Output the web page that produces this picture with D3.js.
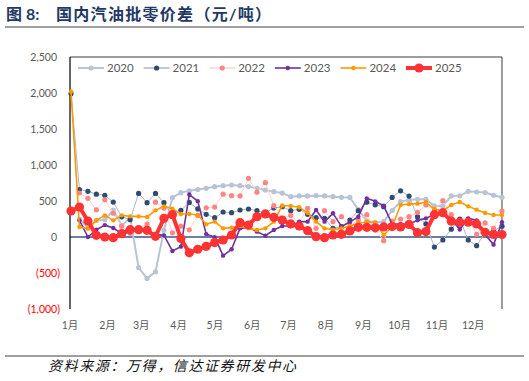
<!DOCTYPE html>
<html lang="zh">
  <head>
    <meta charset="UTF-8" />
    <title>国内汽油批零价差</title>
    <script src="https://cdn.jsdelivr.net/npm/d3@7"></script>
  </head>
  <body>
    <svg width="529" height="381"></svg>
    <style>
      body { margin: 0; background: #fff; }
      svg { display: block; }
      text { font-family: Lato, "Noto Sans CJK SC", sans-serif; }
    </style>
    <script>
      // weekly values, week 0 = first week of Jan
      const years = ["2020", "2021", "2022", "2023", "2024", "2025"];
      const y2020 = [null, 250, 130, 230, 240, 372, 158, 268, -425, -575, -484, 93, 548, 616, 642, 660, 676, 699, 713, 722, 713, 700, 676, 653, 630, 610, 560, 570, 570, 574, 570, 560, 551, 549, 380, 225, 204, 213, 368, 491, 514, 523, 523, 431, 431, 570, 572, 635, 625, 618, 580, 551];
      const y2021 = [1990, 660, 635, 595, 580, 485, 280, 240, 605, 477, 605, 477, 290, 370, 480, 390, 315, 268, 347, 338, 375, 389, 366, 338, 403, 420, 366, 385, 315, 268, 259, 120, 143, 236, 366, 484, 447, 421, 549, 641, 569, 282, 181, -140, -42, 109, 250, -42, -120, 58, 88, 150];
      const y2022 = [null, 611, 537, 378, 516, 330, 150, 51, 120, 180, 484, 402, 58, 150, 100, 300, 405, 416, 595, 574, 571, 815, 623, 755, 435, 260, 300, 200, 398, 120, 365, 213, 282, 150, 236, 310, 100, -51, 222, 250, 282, 343, 445, 380, 505, 310, 150, 250, 37, 195, 120, 361];
      const y2023 = [null, 231, 0, 100, 165, 125, 48, 65, 97, 70, 37, 23, -194, -134, 590, 498, 40, -2, -259, -171, 120, 134, 74, 19, 97, 153, 153, 213, 213, 375, 213, 329, 148, 206, 282, 537, 495, 433, 181, 181, 181, 231, 259, 315, 338, 247, 104, 259, 231, 35, -106, 204];
      const y2024 = [2020, 139, 116, 231, 301, 231, 301, 287, 287, 278, 370, 426, 394, 320, 320, 306, 176, 213, 120, 130, 153, 120, 97, 120, 213, 438, 431, 414, 336, 213, 120, 100, 120, 153, 190, 213, 199, 28, 143, 445, 456, 463, 482, 386, 363, 445, 486, 426, 380, 333, 306, 306];
      const y2025 = [361, 417, 222, 23, 0, -9, 46, 102, 102, 93, 9, 260, 310, -20, -220, -170, -130, -78, -42, 28, 199, 167, 282, 320, 273, 236, 181, 153, 88, 5, -9, 28, 37, 85, 135, 135, 128, 140, 145, 140, 175, 60, 75, 310, 338, 220, 205, 205, 181, 65, 35, 35];
      const seriesValues = [y2020, y2021, y2022, y2023, y2024, y2025];

      const monthLabels = ["1月", "2月", "3月", "4月", "5月", "6月", "7月", "8月", "9月", "10月", "11月", "12月"];
      const monthStartDay = [0, 31, 59, 90, 120, 151, 181, 212, 243, 273, 304, 334];
      const yTicks = [2500, 2000, 1500, 1000, 500, 0, -500, -1000];

      const styles = [
        { line: "#b8c4d6", lw: 2, dot: "#b8c4d6", r: 2.6 },
        { line: "#a9b7ca", lw: 1, dot: "#2f4b74", r: 2.6 },
        { line: "#ffd3d3", lw: 1, dot: "#ff8585", r: 2.6 },
        { line: "#7030a0", lw: 1.6, dot: "#7030a0", r: 2.2 },
        { line: "#ff9900", lw: 1.6, dot: "#ff9900", r: 2.2 },
        { line: "#ff3333", lw: 4, dot: "#ff3333", r: 4.6 }
      ];

      const svg = d3.select("svg");
      const plotLeft = 70, plotRight = 502, plotTop = 57, plotBottom = 309;

      const x = d3.scaleLinear().domain([0, 357]).range([71, plotRight]);
      const y = d3.scaleLinear().domain([-1000, 2500]).range([plotBottom, plotTop]);

      // title
      const title = svg.append("text")
        .attr("x", 6).attr("y", 20)
        .attr("font-family", "'Noto Sans CJK SC'")
        .attr("font-size", 16).attr("font-weight", "bold")
        .attr("fill", "#1f3864");
      title.append("tspan").text("图 8:");
      title.append("tspan").attr("x", 56).attr("letter-spacing", 1.3).text("国内汽油批零价差（元/吨）");
      svg.append("line")
        .attr("x1", 5).attr("x2", 524).attr("y1", 27).attr("y2", 27)
        .attr("stroke", "#808080").attr("stroke-width", 1.5);

      // plot frame (top + right)
      svg.append("path")
        .attr("d", `M${plotLeft},${plotTop}H${plotRight}V${plotBottom}`)
        .attr("fill", "none").attr("stroke", "#3a3a3a").attr("stroke-width", 1);

      // y axis labels
      svg.selectAll(".ytick").data(yTicks).enter().append("text")
        .attr("class", "ytick")
        .attr("x", d => d < 0 ? 60 : 57)
        .attr("y", d => y(d) + 4)
        .attr("text-anchor", "end")
        .attr("font-size", 10.5)
        .attr("fill", d => d < 0 ? "#ff0000" : "#595959")
        .text(d => d < 0 ? "(" + d3.format(",")(-d) + ")" : d3.format(",")(d));

      // x axis labels
      svg.selectAll(".xtick").data(monthLabels).enter().append("text")
        .attr("class", "xtick")
        .attr("x", (d, i) => x(monthStartDay[i]) - 1)
        .attr("y", 329)
        .attr("text-anchor", "middle")
        .attr("font-size", 10.5)
        .attr("fill", "#595959")
        .text(d => d);

      // zero line
      svg.append("line")
        .attr("x1", plotLeft).attr("x2", plotRight).attr("y1", y(0)).attr("y2", y(0))
        .attr("stroke", "#6a7fa3").attr("stroke-width", 2);

      // left axis
      svg.append("line")
        .attr("x1", plotLeft).attr("x2", plotLeft).attr("y1", plotTop).attr("y2", plotBottom)
        .attr("stroke", "#000").attr("stroke-width", 1.2);

      const line = d3.line()
        .defined(d => d != null)
        .x((d, i) => x(i * 7))
        .y(d => y(d));

      seriesValues.forEach((vals, k) => {
        const st = styles[k];
        const g = svg.append("g");
        g.append("path")
          .attr("d", line(vals))
          .attr("fill", "none")
          .attr("stroke", st.line)
          .attr("stroke-width", st.lw)
          .attr("stroke-linejoin", "round");
        g.selectAll("circle")
          .data(vals.map((v, i) => ({ v, i })).filter(d => d.v != null))
          .enter().append("circle")
          .attr("cx", d => x(d.i * 7))
          .attr("cy", d => y(d.v))
          .attr("r", st.r)
          .attr("fill", st.dot);
      });

      // legend
      const legend = svg.selectAll(".leg").data(years).enter().append("g")
        .attr("class", "leg")
        .attr("transform", (d, i) => `translate(${78 + i * 65.6},68)`);
      legend.append("line")
        .attr("x1", 0).attr("x2", 26)
        .attr("stroke", (d, i) => styles[i].line)
        .attr("stroke-width", (d, i) => Math.max(styles[i].lw, 1.5));
      legend.append("circle")
        .attr("cx", 13).attr("r", (d, i) => styles[i].r)
        .attr("fill", (d, i) => styles[i].dot);
      legend.append("text")
        .attr("x", 29).attr("y", 4)
        .attr("font-size", 11.5)
        .attr("fill", "#595959")
        .text(d => d);

      // source
      svg.append("line")
        .attr("x1", 5).attr("x2", 524).attr("y1", 356).attr("y2", 356)
        .attr("stroke", "#404040").attr("stroke-width", 1.2);
      svg.append("text")
        .attr("x", 48).attr("y", 371)
        .attr("font-family", "'Noto Sans CJK SC'")
        .attr("font-size", 14).attr("font-style", "italic")
        .attr("letter-spacing", 1.6)
        .attr("fill", "#111")
        .text("资料来源：万得，信达证券研发中心");
    </script>
  </body>
</html>
